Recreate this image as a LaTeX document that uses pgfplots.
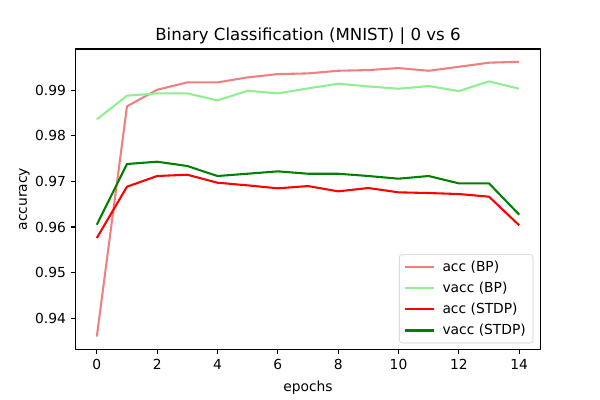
\documentclass[border=0pt]{standalone}
\usepackage{pgfplots}
\pgfplotsset{compat=1.18}
\usepackage{fontspec}
\setmainfont{DejaVu Sans}
\definecolor{lcoral}{RGB}{240,128,128}
\definecolor{lgreen}{RGB}{144,238,144}
\definecolor{mgreen}{RGB}{0,128,0}
\begin{document}
\begin{tikzpicture}
\useasboundingbox (0,0) rectangle (6in,4in);
\begin{axis}[
  at={(0.757in,0.507in)}, anchor=south west,
  scale only axis, width=4.646in, height=3.003in,
  xmin=-0.7, xmax=14.7, ymin=0.9332, ymax=0.9990,
  xtick={0,2,...,14}, ytick={0.94,0.95,...,0.99},
  yticklabel style={/pgf/number format/.cd,fixed,fixed zerofill,precision=2},
  /pgf/number format/assume math mode=true,
  tick align=outside, xtick pos=left, ytick pos=left,
  major tick length=3.5pt,
  axis line style={line width=0.8pt},
  every tick/.style={black,line width=0.8pt},
  ticklabel style={font=\fontsize{10}{12}\selectfont},
  label style={font=\fontsize{10}{12}\selectfont},
  xlabel style={yshift=-1.5pt},
  ylabel style={yshift=-3pt},
  title style={font=\fontsize{12}{14}\selectfont, yshift=-6pt},
  title={Binary Classification (MNIST) | 0 vs 6},
  xlabel={epochs}, ylabel={accuracy},
  legend cell align=left,
  legend style={at={(1,0)}, anchor=south east, xshift=-0.07in, yshift=0.06in,
    draw=black!20, rounded corners=2pt, font=\fontsize{10}{12}\selectfont,
    inner xsep=3.2pt, inner ysep=2.5pt, row sep=2.2pt},
  legend image code/.code={\draw[#1] (0in,0in) -- (0.29in,0in); \path (0.34in,0in);},
  every axis plot/.append style={line width=1.5pt, line join=round},
]
\addplot[lcoral] coordinates {(0,0.9360)(1,0.98643)(2,0.99007)(3,0.99168)(4,0.99168)(5,0.99278)(6,0.9935)(7,0.99365)(8,0.99423)(9,0.99438)(10,0.99482)(11,0.99423)(12,0.9951)(13,0.9960)(14,0.9962)};
\addlegendentry{acc (BP)}
\addplot[lgreen] coordinates {(0,0.98358)(1,0.98876)(2,0.98927)(3,0.98927)(4,0.98774)(5,0.98985)(6,0.98927)(7,0.99036)(8,0.99139)(9,0.9908)(10,0.99029)(11,0.99088)(12,0.98978)(13,0.9919)(14,0.99029)};
\addlegendentry{vacc (BP)}
\addplot[red] coordinates {(0,0.95759)(1,0.96883)(2,0.97117)(3,0.97145)(4,0.9697)(5,0.96912)(6,0.96847)(7,0.96897)(8,0.96781)(9,0.96854)(10,0.96759)(11,0.96744)(12,0.96722)(13,0.96664)(14,0.96037)};
\addlegendentry{acc (STDP)}
\addplot[mgreen] coordinates {(0,0.9605)(1,0.9738)(2,0.9743)(3,0.97336)(4,0.97117)(5,0.97167)(6,0.97219)(7,0.97167)(8,0.97167)(9,0.97117)(10,0.97058)(11,0.97117)(12,0.96956)(13,0.96956)(14,0.9627)};
\addlegendentry{vacc (STDP)}
\end{axis}
\end{tikzpicture}
\end{document}
